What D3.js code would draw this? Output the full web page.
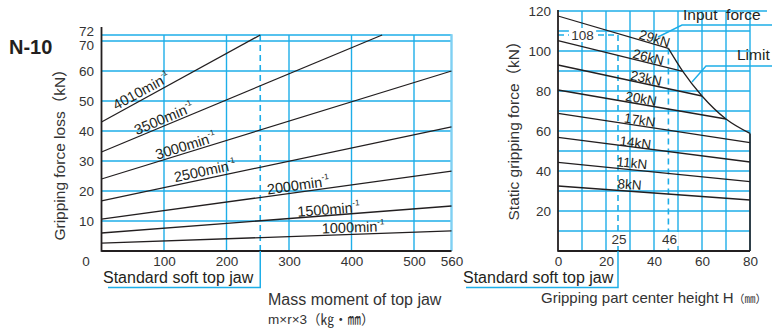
<!DOCTYPE html>
<html><head><meta charset="utf-8">
<script src="https://cdn.jsdelivr.net/npm/d3@7"></script>
<style>
html,body{margin:0;padding:0;background:#fff;}
svg{display:block;font-family:"Liberation Sans",Arial,"Noto Sans CJK JP",sans-serif;}
</style></head><body>
<svg id="c" width="772" height="331"></svg>
<script>
// ---------- DATA ----------
// Left chart: gripping force loss vs mass moment of top jaw
const leftXTicks = [100, 200, 300, 400, 500, 560];
const leftYTicks = [10, 20, 30, 40, 50, 60, 70, 72];
const speedLabels = ["4010", "3500", "3000", "2500", "2000", "1500", "1000"];
const speedStartX = [0, 0, 0, 0, 0, 0, 0];
const speedStartY = [43, 33, 24, 16.7, 10.6, 6, 2.6];
const speedEndX   = [254, 449, 560, 560, 560, 560, 560];
const speedEndY   = [72, 72, 60, 41.4, 26.6, 15, 6.7];
const standardJawMass = 254;

// Right chart: static gripping force vs gripping part center height
const rightXTicks = [0, 20, 40, 60, 80];
const rightYTicks = [20, 40, 60, 80, 100, 120];
const forceLabels = ["29kN", "26kN", "23kN", "20kN", "17kN", "14kN", "11kN", "8kN"];
const forceStartY = [117.5, 105.2, 93, 80.5, 68.8, 56.8, 44.3, 32.5];
const forceEndX   = [46, 52, 60, 70, 80, 80, 80, 80];
const forceEndY   = [101.3, 89.8, 77.5, 66, 54.2, 44.5, 34.7, 25.5];
const limitH = [46, 52, 60, 70, 80];
const limitF = [101.3, 89.8, 77.5, 66, 58.8];
const standardH = 25, standardF = 108, limitStartH = 46;

// ---------- DRAW ----------
const svg = d3.select("#c");
const BLUE = "#1eaee8", LBLUE = "#7fd0f3", INK = "#231f20", TXT = "#333";

const xL = d3.scaleLinear([0, 560], [101.5, 451.5]);
const yL = d3.scaleLinear([0, 72], [251, 35]);
const xR = d3.scaleLinear([0, 80], [558, 750]);
const yR = d3.scaleLinear([0, 120], [251, 11]);

svg.append("text").attr("x", 9).attr("y", 54).attr("font-size", 20).attr("font-weight", "bold")
  .attr("fill", INK).text("N-10");

// ===== LEFT CHART =====
const gL = svg.append("g");
d3.range(10, 71, 10).forEach(v => gL.append("line").attr("x1", xL(0)).attr("x2", xL(560))
  .attr("y1", yL(v)).attr("y2", yL(v)).attr("stroke", BLUE).attr("stroke-width", 1.4));
gL.append("line").attr("x1", xL(0)).attr("x2", xL(560)).attr("y1", yL(72)).attr("y2", yL(72))
  .attr("stroke", BLUE).attr("stroke-width", 1.6);
[100, 200, 300, 400, 500].forEach(v => gL.append("line").attr("x1", xL(v)).attr("x2", xL(v))
  .attr("y1", yL(72)).attr("y2", yL(0)).attr("stroke", BLUE).attr("stroke-width", 1.4));
gL.append("line").attr("x1", xL(560)).attr("x2", xL(560)).attr("y1", yL(72) - 0.8).attr("y2", yL(0))
  .attr("stroke", LBLUE).attr("stroke-width", 2.4);
gL.append("line").attr("x1", xL(standardJawMass)).attr("x2", xL(standardJawMass))
  .attr("y1", yL(72)).attr("y2", yL(0)).attr("stroke", BLUE).attr("stroke-width", 1.6)
  .attr("stroke-dasharray", "6,4");
gL.append("line").attr("x1", xL(0)).attr("x2", xL(0)).attr("y1", 27).attr("y2", yL(0) + 0.8)
  .attr("stroke", INK).attr("stroke-width", 1.8);
gL.append("line").attr("x1", xL(0)).attr("x2", xL(560)).attr("y1", yL(0)).attr("y2", yL(0))
  .attr("stroke", INK).attr("stroke-width", 1.8);
speedLabels.forEach((s, i) => {
  gL.append("line").attr("x1", xL(speedStartX[i])).attr("y1", yL(speedStartY[i]))
    .attr("x2", xL(speedEndX[i])).attr("y2", yL(speedEndY[i]))
    .attr("stroke", INK).attr("stroke-width", 1.3);
});
const speedLabelAt = [70, 104, 138, 168, 316, 364, 403];
const speedLabelOff = [3, 2, 2, 3, 2, 1, 2];
speedLabels.forEach((s, i) => {
  const slope = (speedEndY[i] - speedStartY[i]) / (speedEndX[i] - speedStartX[i]);
  const xv = speedLabelAt[i], yv = speedStartY[i] + slope * (xv - speedStartX[i]);
  const ang = Math.atan2(yL(speedEndY[i]) - yL(speedStartY[i]), xL(speedEndX[i]) - xL(speedStartX[i])) * 180 / Math.PI;
  const t = gL.append("text").attr("transform", `translate(${xL(xv)},${yL(yv)}) rotate(${ang})`)
    .attr("y", -speedLabelOff[i]).attr("text-anchor", "middle").attr("font-size", 14.5).attr("fill", INK);
  t.append("tspan").text(s + "min");
  t.append("tspan").attr("font-size", 8).attr("dy", -7).text("-1");
});
const axL = d3.axisBottom(xL).tickValues(leftXTicks).tickSize(0).tickPadding(0);
const gaxL = svg.append("g").attr("transform", `translate(0,${yL(0)})`).call(axL);
gaxL.select(".domain").remove();
gaxL.selectAll("text").attr("font-size", 13.5).attr("fill", TXT).attr("font-family", null).attr("dy", null).attr("y", 15);
const ayL = d3.axisLeft(yL).tickValues(leftYTicks).tickSize(0).tickPadding(0);
const gayL = svg.append("g").attr("transform", `translate(94,0)`).call(ayL);
gayL.select(".domain").remove();
gayL.selectAll("text").attr("font-size", 13.5).attr("fill", TXT).attr("font-family", null)
  .attr("dy", d => d === 72 ? "0.02em" : d === 70 ? "0.6em" : "0.32em");
svg.append("text").attr("x", 86).attr("y", 266).attr("text-anchor", "middle")
  .attr("font-size", 13.5).attr("fill", TXT).text("0");
svg.append("text").attr("transform", "translate(65,151) rotate(-90)").attr("text-anchor", "middle")
  .attr("font-size", 15.5).attr("fill", TXT).text("Gripping force loss（kN）");
svg.append("text").attr("x", 103).attr("y", 283).attr("font-size", 16).attr("fill", INK).text("Standard soft top jaw");
svg.append("polyline").attr("points", `108,287.5 ${xL(standardJawMass)},287.5 ${xL(standardJawMass)},${yL(0)}`)
  .attr("fill", "none").attr("stroke", BLUE).attr("stroke-width", 1.5);
svg.append("text").attr("x", 268).attr("y", 305).attr("font-size", 16).attr("fill", TXT).text("Mass moment of top jaw");
svg.append("text").attr("x", 268).attr("y", 324).attr("font-size", 13.5).attr("fill", TXT).text("m×r×3（㎏・㎜）");

// ===== RIGHT CHART =====
const gR = svg.append("g");
d3.range(10, 121, 10).forEach(v => gR.append("line").attr("x1", xR(0)).attr("x2", v === 120 ? 767 : xR(80))
  .attr("y1", yR(v)).attr("y2", yR(v)).attr("stroke", BLUE).attr("stroke-width", 1.4));
d3.range(10, 81, 10).forEach(v => gR.append("line").attr("x1", xR(v)).attr("x2", xR(v))
  .attr("y1", yR(120)).attr("y2", yR(0)).attr("stroke", BLUE).attr("stroke-width", 1.4));
gR.append("line").attr("x1", xR(80)).attr("x2", xR(80)).attr("y1", yR(limitF[limitF.length - 1])).attr("y2", yR(0))
  .attr("stroke", INK).attr("stroke-width", 1.6);
const dash = (x1, y1, x2, y2) => gR.append("line").attr("x1", x1).attr("y1", y1).attr("x2", x2).attr("y2", y2)
  .attr("stroke", BLUE).attr("stroke-width", 1.6).attr("stroke-dasharray", "6,4");
dash(xR(standardH), yR(standardF), xR(standardH), yR(0));
dash(xR(0), yR(standardF), xR(standardH), yR(standardF));
dash(xR(limitStartH), yR(limitF[0]), xR(limitStartH), yR(0));
gR.append("line").attr("x1", xR(0)).attr("x2", xR(0)).attr("y1", yR(120) - 1).attr("y2", yR(0) + 0.8)
  .attr("stroke", INK).attr("stroke-width", 1.8);
gR.append("line").attr("x1", xR(0)).attr("x2", xR(80)).attr("y1", yR(0)).attr("y2", yR(0))
  .attr("stroke", INK).attr("stroke-width", 1.8);
forceLabels.forEach((f, i) => {
  gR.append("line").attr("x1", xR(0)).attr("y1", yR(forceStartY[i]))
    .attr("x2", xR(forceEndX[i])).attr("y2", yR(forceEndY[i])).attr("stroke", INK).attr("stroke-width", 1.3);
});
gR.append("path").datum(limitH.map((h, i) => [h, limitF[i]]))
  .attr("d", d3.line().x(d => xR(d[0])).y(d => yR(d[1])).curve(d3.curveMonotoneX))
  .attr("fill", "none").attr("stroke", INK).attr("stroke-width", 1.3);
const forceLabelAt = [39.6, 37.1, 36.2, 34.2, 33.7, 32, 30.5, 29.6];
const forceLabelOff = [1, 1, 1, 1, 1, 0, 2, 2];
forceLabels.forEach((f, i) => {
  const slope = (forceEndY[i] - forceStartY[i]) / forceEndX[i];
  const hv = forceLabelAt[i], fv = forceStartY[i] + slope * hv;
  const ang = Math.atan2(yR(forceEndY[i]) - yR(forceStartY[i]), xR(forceEndX[i]) - xR(0)) * 180 / Math.PI;
  gR.append("text").attr("transform", `translate(${xR(hv)},${yR(fv)}) rotate(${ang})`)
    .attr("y", -forceLabelOff[i]).attr("text-anchor", "middle").attr("font-size", 13.5).attr("fill", INK).text(f);
});
const boxLabel = (x, y, txt) => {
  gR.append("rect").attr("x", x - txt.length * 4.2 - 1).attr("y", y - 7).attr("width", txt.length * 8.4 + 2)
    .attr("height", 14).attr("fill", "#fff");
  gR.append("text").attr("x", x).attr("y", y + 5).attr("text-anchor", "middle").attr("font-size", 13.5)
    .attr("fill", TXT).text(txt);
};
boxLabel(582.5, yR(standardF), String(standardF));
boxLabel(xR(standardH) + 1, 239, String(standardH));
boxLabel(xR(limitStartH) + 1, 239, String(limitStartH));
const axR = d3.axisBottom(xR).tickValues(rightXTicks).tickSize(0).tickPadding(0);
const gaxR = svg.append("g").attr("transform", `translate(0,${yR(0)})`).call(axR);
gaxR.select(".domain").remove();
gaxR.selectAll("text").attr("font-size", 13.5).attr("fill", TXT).attr("font-family", null).attr("dy", null).attr("y", 15);
const ayR = d3.axisLeft(yR).tickValues(rightYTicks).tickSize(0).tickPadding(0);
const gayR = svg.append("g").attr("transform", `translate(551,0)`).call(ayR);
gayR.select(".domain").remove();
gayR.selectAll("text").attr("font-size", 13.5).attr("fill", TXT).attr("font-family", null).attr("dy", "0.32em");
svg.append("text").attr("transform", "translate(519,127) rotate(-90)").attr("text-anchor", "middle")
  .attr("font-size", 15.5).attr("fill", TXT).text("Static gripping force（kN）");
svg.append("text").attr("x", 683).attr("y", 20).attr("font-size", 15.5).attr("fill", INK).attr("xml:space", "preserve").text("Input  force");
svg.append("polyline").attr("points", "658,37 682,25 772,25").attr("fill", "none").attr("stroke", BLUE).attr("stroke-width", 1.4);
svg.append("text").attr("x", 737).attr("y", 60).attr("font-size", 15.5).attr("fill", INK).text("Limit");
svg.append("polyline").attr("points", "692,82 706,66 772,66").attr("fill", "none").attr("stroke", BLUE).attr("stroke-width", 1.4);
svg.append("text").attr("x", 463).attr("y", 283).attr("font-size", 16).attr("fill", INK).text("Standard soft top jaw");
svg.append("polyline").attr("points", `466,287.5 ${xR(standardH)},287.5 ${xR(standardH)},${yR(0)}`)
  .attr("fill", "none").attr("stroke", BLUE).attr("stroke-width", 1.5);
const xlab = svg.append("text").attr("x", 541).attr("y", 303).attr("font-size", 15).attr("fill", TXT);
xlab.append("tspan").text("Gripping part center height H");
xlab.append("tspan").attr("font-size", 11).text("（㎜）");
</script>
</body></html>
